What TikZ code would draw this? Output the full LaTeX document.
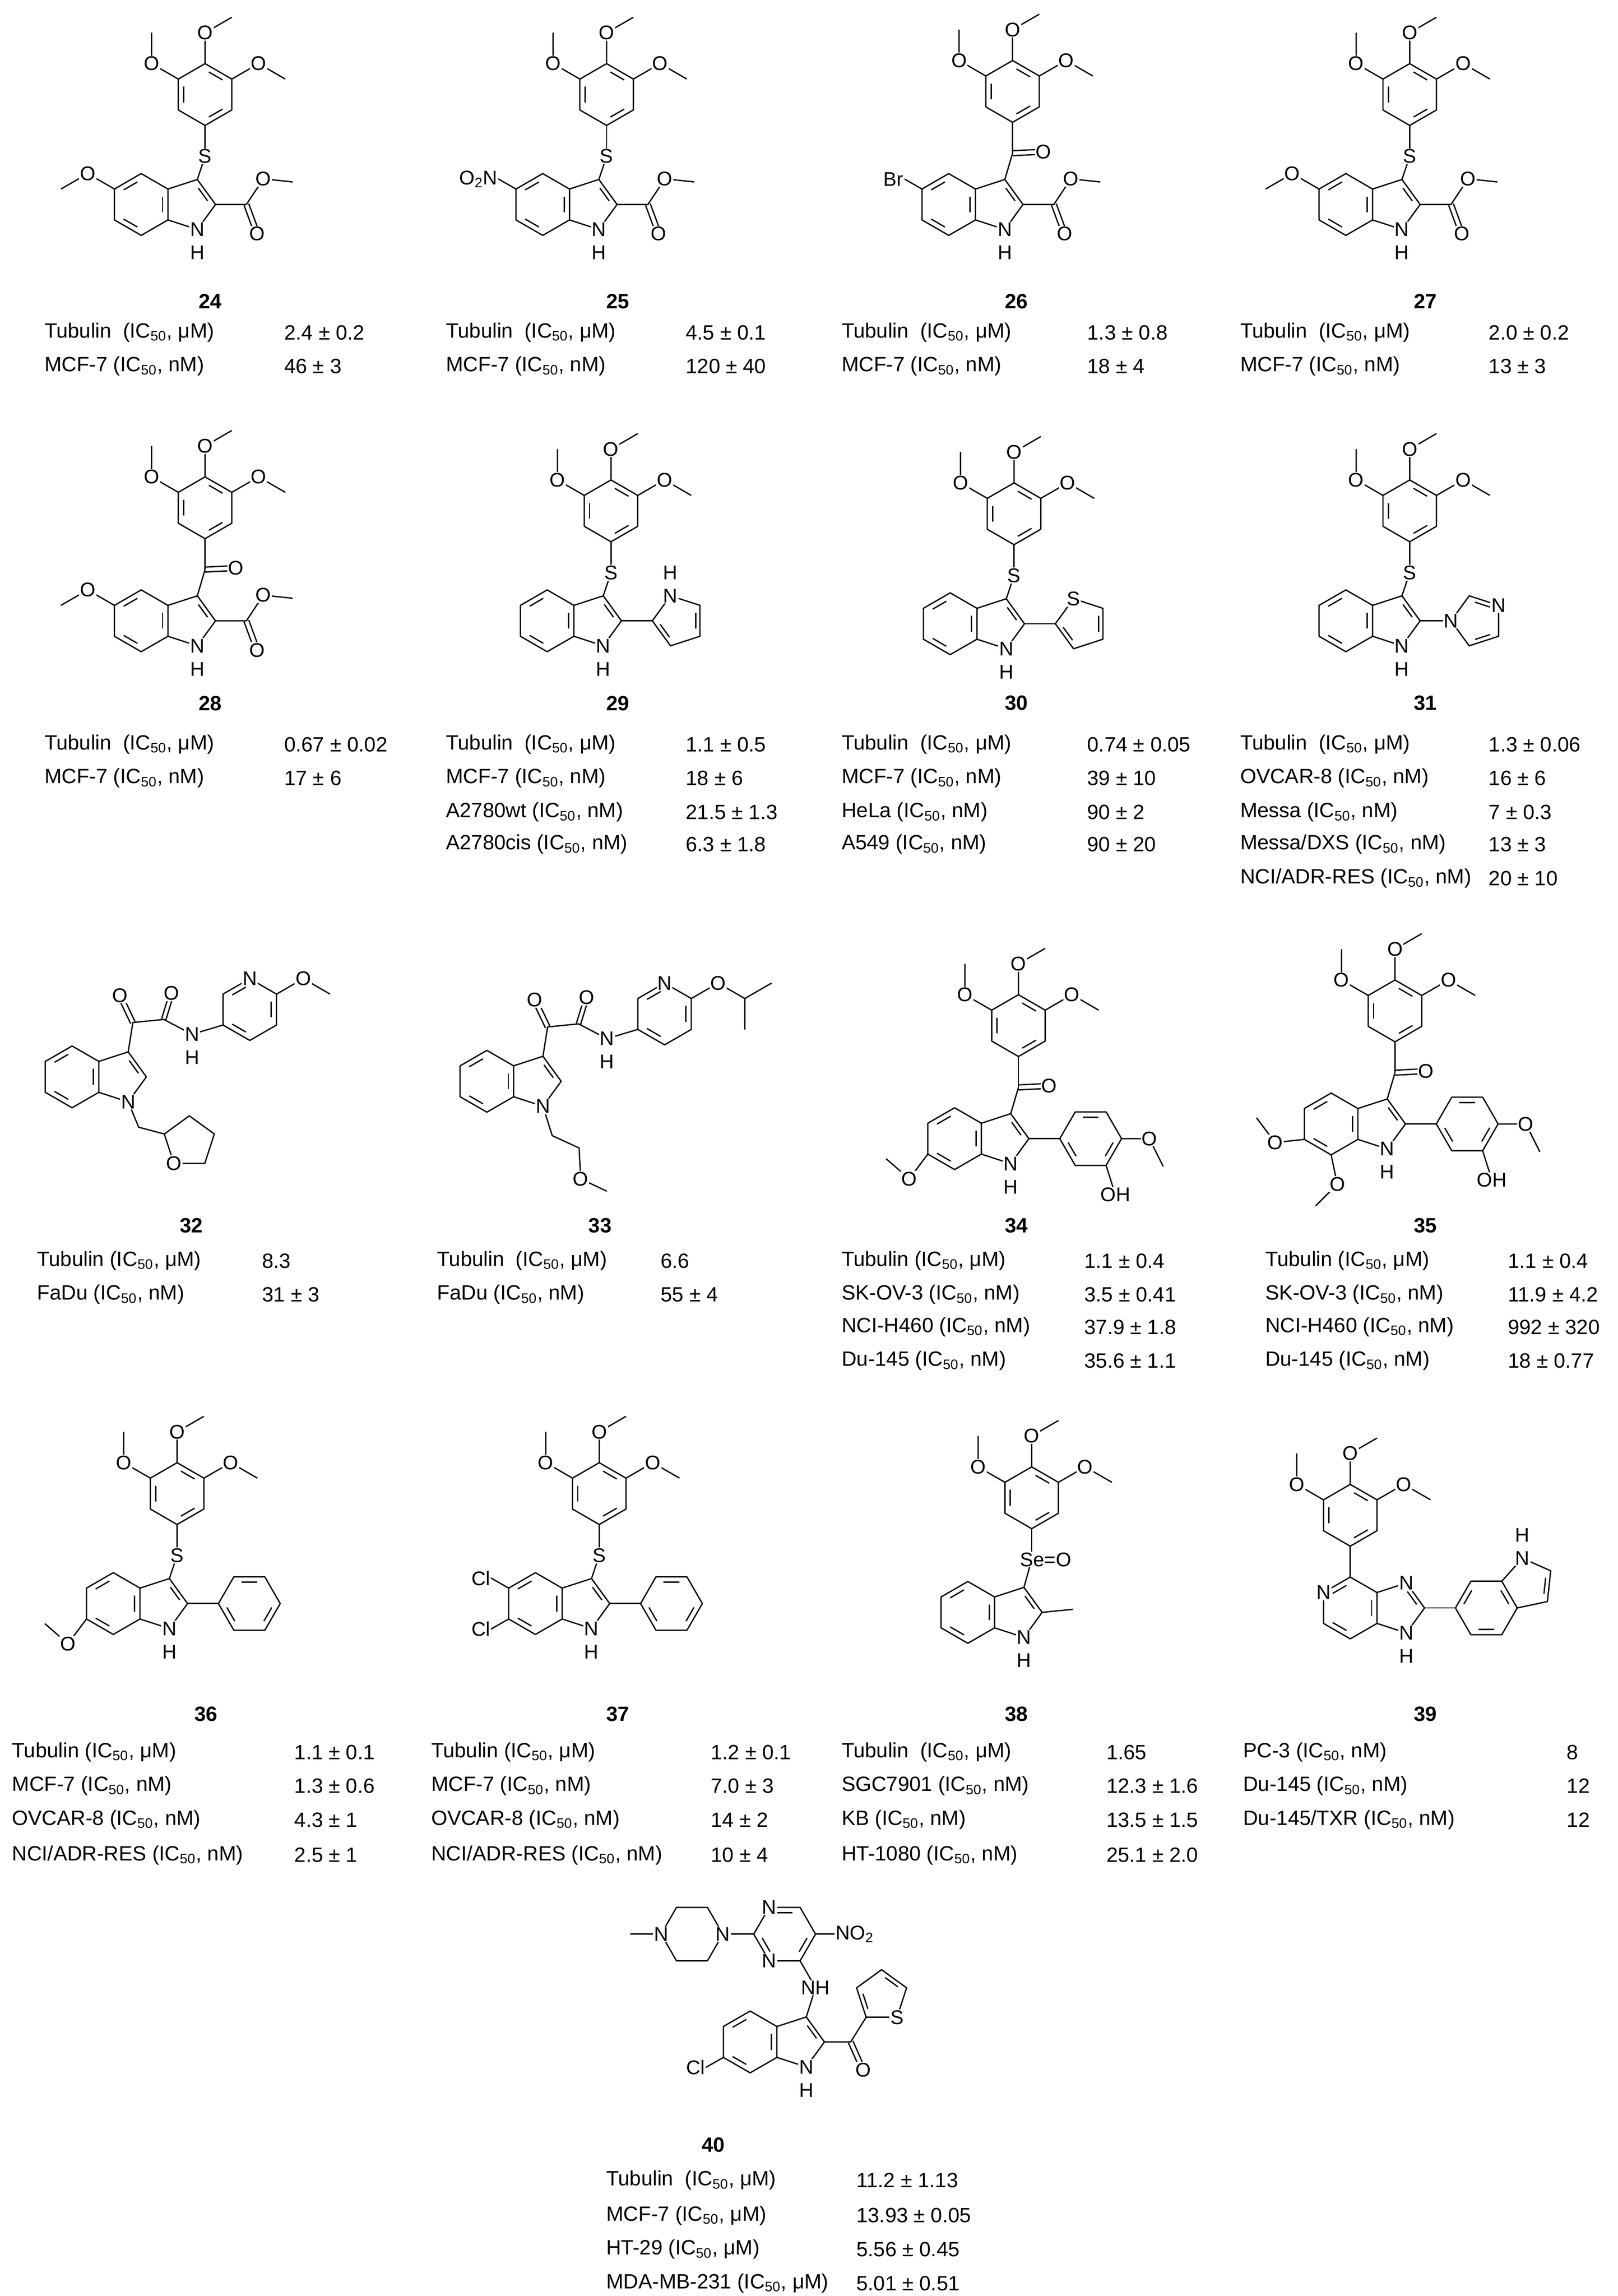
\documentclass[tikz,border=0pt]{standalone}
\usepackage{fontspec}
\setmainfont{Liberation Sans}
\usetikzlibrary{calc}
\tikzset{
 atom/.style={fill=white,inner sep=0.5pt,font=\fontsize{11.5}{11.5}\selectfont},
 dat/.style={anchor=west,inner sep=0pt,font=\fontsize{12}{12}\selectfont},
 cnum/.style={inner sep=0pt,font=\fontsize{12}{12}\selectfont\bfseries},
 mol/.style={x=0.63cm,y=0.63cm,line width=0.75pt,line join=round}
}
\newcommand\IC[1]{(IC\textsubscript{50}, #1)}
\newcommand\hexr[3]{\coordinate (#1c) at (#2);
 \foreach \k in {1,...,6}{\coordinate (#1\k) at ($(#2)+({#3+60*(\k-1)}:1)$);}
 \draw (#11)--(#12)--(#13)--(#14)--(#15)--(#16)--cycle;}
\newcommand\pentr[3]{\coordinate (#1c) at (#2);
 \foreach \k in {1,...,5}{\coordinate (#1\k) at ($(#2)+({#3+72*(\k-1)}:0.851)$);}
 \draw (#11)--(#12)--(#13)--(#14)--(#15)--cycle;}
\newcommand\dbl[3]{\draw ($(#1)!.18!(#2)!.2!(#3)$) -- ($(#2)!.18!(#1)!.2!(#3)$);}
\newcommand\dblo[2]{\draw ($(#1)!.08!90:(#2)$) -- ($(#2)!.08!-90:(#1)$); \draw ($(#1)!.08!-90:(#2)$) -- ($(#2)!.08!90:(#1)$);}
\newcommand\indole{\hexr{b}{0,0}{30}
 \coordinate (c3) at (1.817,0.809); \coordinate (c2) at (2.405,0); \coordinate (n1) at (1.817,-0.809); \coordinate (pc) at (1.554,0);
 \draw (b1)--(c3)--(c2)--(n1)--(b6);
 \dbl{b2}{b3}{bc}\dbl{b4}{b5}{bc}\dbl{b6}{b1}{bc}\dbl{c3}{c2}{pc}}
\newcommand\NHlab{\node[atom] at (n1){N}; \node[atom] at ($(n1)+(0,-0.75)$){H};}
\newcommand\tmpring[1]{\coordinate (tc) at ($(#1)+(0,2)$);
 \hexr{t}{tc}{30}
 \draw (#1)--(t5);
 \dbl{t5}{t6}{tc}\dbl{t1}{t2}{tc}\dbl{t3}{t4}{tc}
 \coordinate (to2) at ($(t2)+(0,1)$); \coordinate (tm2) at ($(to2)+(0.866,0.5)$);
 \coordinate (to1) at ($(t1)+(0.866,0.5)$); \coordinate (tm1) at ($(to1)+(0.866,-0.5)$);
 \coordinate (to3) at ($(t3)+(-0.866,0.5)$); \coordinate (tm3) at ($(to3)+(0,1)$);
 \draw (t2)--(to2)--(tm2) (t1)--(to1)--(tm1) (t3)--(to3)--(tm3);}
\newcommand\tmplab{\node[atom] at (to1){O}; \node[atom] at (to2){O}; \node[atom] at (to3){O};}
\newcommand\ester{\coordinate (ec) at ($(c2)+(1,0)$); \coordinate (eo) at ($(ec)+(0.55,0.83)$);
 \coordinate (em) at ($(eo)+(0.95,-0.1)$); \coordinate (ed) at ($(ec)+(0.35,-0.95)$);
 \draw (c2)--(ec)--(eo)--(em); \dblo{ec}{ed}}
\newcommand\esterlab{\node[atom] at (eo){O}; \node[atom] at (ed){O};}
\newcommand\sarene{\coordinate (S) at ($(c3)+(0.25,0.75)$); \draw (c3)--(S); \tmpring{S}}
\newcommand\ketone{\coordinate (cc) at ($(c3)+(0.25,0.85)$); \draw (c3)--(cc);
 \coordinate (kd) at ($(cc)+(1,0.05)$); \dblo{cc}{kd} \tmpring{cc}}
\newcommand\fiveOMe{\coordinate (o5) at ($(b3)+(-0.866,0.5)$); \coordinate (m5) at ($(o5)+(-0.866,-0.5)$); \draw (b3)--(o5)--(m5);}
\newcommand\phenyl{\coordinate (ac) at ($(c2)+(2,0)$); \hexr{a}{ac}{0} \draw (c2)--(a4);
 \dbl{a2}{a3}{ac}\dbl{a1}{a6}{ac}\dbl{a4}{a5}{ac}}
\newcommand\aryl{\phenyl
 \coordinate (ao) at ($(a1)+(0.9,0)$); \coordinate (am) at ($(ao)+(0.45,-0.9)$); \coordinate (oh) at ($(a6)+(0.3,-0.95)$);
 \draw (a1)--(ao)--(am) (a6)--(oh);}
\newcommand\aryllab{\node[atom] at (ao){O}; \node[atom] at (oh){OH};}
\begin{document}
\begin{tikzpicture}[x=0.03cm,y=-0.03cm]
\useasboundingbox (0,0) rectangle (1100,1560.7);
\fill[white] (0,0) rectangle (1100,1560.7);
% ---------- 24
\begin{scope}[shift={(96,139)},mol]
\indole \sarene \fiveOMe \ester
\tmplab \esterlab \NHlab \node[atom] at (S){S}; \node[atom] at (o5){O};
\end{scope}
% ---------- 25
\begin{scope}[shift={(369,139)},mol]
\indole \sarene \ester
\draw (b3)--($(b3)+(-0.7,0.4)$);
\tmplab \esterlab \NHlab \node[atom] at (S){S};
\node[atom,anchor=east] at ($(b3)+(-0.55,0.32)$){O\textsubscript{2}N};
\end{scope}
% ---------- 26
\begin{scope}[shift={(645,139)},mol]
\indole \ketone \ester
\draw (b3)--($(b3)+(-0.7,0.4)$);
\tmplab \esterlab \NHlab \node[atom] at (kd){O};
\node[atom,anchor=east] at ($(b3)+(-0.55,0.32)$){Br};
\end{scope}
% ---------- 27
\begin{scope}[shift={(915,139)},mol]
\indole \sarene \fiveOMe \ester
\tmplab \esterlab \NHlab \node[atom] at (S){S}; \node[atom] at (o5){O};
\end{scope}
% ---------- 28
\begin{scope}[shift={(96,422)},mol]
\indole \ketone \fiveOMe \ester
\tmplab \esterlab \NHlab \node[atom] at (kd){O}; \node[atom] at (o5){O};
\end{scope}
% ---------- 29
\begin{scope}[shift={(372,422)},mol]
\indole \sarene
\coordinate (qc) at ($(c2)+(1.851,0)$); \pentr{q}{qc}{180} \draw (c2)--(q1);
\dbl{q1}{q2}{qc}\dbl{q3}{q4}{qc}
\tmplab \NHlab \node[atom] at (S){S};
\node[atom] at (q5){N}; \node[atom] at ($(q5)+(0,0.75)$){H};
\end{scope}
% ---------- 30
\begin{scope}[shift={(646,424)},mol]
\indole \sarene
\coordinate (qc) at ($(c2)+(1.851,0)$); \pentr{q}{qc}{180} \draw (c2)--(q1);
\dbl{q1}{q2}{qc}\dbl{q3}{q4}{qc}
\tmplab \NHlab \node[atom] at (S){S}; \node[atom] at (q5){S};
\end{scope}
% ---------- 31
\begin{scope}[shift={(915,422)},mol]
\indole \sarene
\coordinate (qc) at ($(c2)+(1.851,0)$); \pentr{q}{qc}{180} \draw (c2)--(q1);
\dbl{q5}{q4}{qc}\dbl{q3}{q2}{qc}
\tmplab \NHlab \node[atom] at (S){S}; \node[atom] at (q1){N}; \node[atom] at (q4){N};
\end{scope}
% ---------- 32
\begin{scope}[shift={(49,732)},mol]
\indole
\coordinate (ca) at ($(c3)+(0.15,0.95)$); \coordinate (cb) at ($(ca)+(1,0.1)$);
\coordinate (oa) at ($(ca)+(-0.42,0.88)$); \coordinate (ob) at ($(cb)+(0.26,0.85)$);
\coordinate (nn) at ($(cb)+(0.92,-0.48)$); \coordinate (rp) at ($(nn)+(1,0.3)$);
\draw (c3)--(ca)--(cb)--(nn)--(rp); \dblo{ca}{oa} \dblo{cb}{ob}
\coordinate (rc) at ($(rp)+(0.866,0.5)$); \hexr{r}{rc}{30}
\dbl{r2}{r3}{rc}\dbl{r1}{r6}{rc}\dbl{r5}{r4}{rc}
\coordinate (ro) at ($(r1)+(0.866,0.5)$); \coordinate (rm) at ($(ro)+(0.866,-0.5)$); \draw (r1)--(ro)--(rm);
\coordinate (k1) at ($(n1)+(0.34,-0.82)$); \coordinate (k2) at ($(k1)+(0.83,-0.22)$);
\draw (n1)--(k1)--(k2);
\coordinate (hc) at ($(k2)+(0.809,-0.263)$); \pentr{h}{hc}{162}
\node[atom] at (n1){N}; \node[atom] at (oa){O}; \node[atom] at (ob){O};
\node[atom] at (nn){N}; \node[atom] at ($(nn)+(0,-0.75)$){H};
\node[atom] at (r2){N}; \node[atom] at (ro){O}; \node[atom] at (h2){O};
\end{scope}
% ---------- 33
\begin{scope}[shift={(331,735)},mol]
\indole
\coordinate (ca) at ($(c3)+(0.15,0.95)$); \coordinate (cb) at ($(ca)+(1,0.1)$);
\coordinate (oa) at ($(ca)+(-0.42,0.88)$); \coordinate (ob) at ($(cb)+(0.26,0.85)$);
\coordinate (nn) at ($(cb)+(0.92,-0.48)$); \coordinate (rp) at ($(nn)+(1,0.3)$);
\draw (c3)--(ca)--(cb)--(nn)--(rp); \dblo{ca}{oa} \dblo{cb}{ob}
\coordinate (rc) at ($(rp)+(0.866,0.5)$); \hexr{r}{rc}{30}
\dbl{r2}{r3}{rc}\dbl{r1}{r6}{rc}\dbl{r5}{r4}{rc}
\coordinate (ro) at ($(r1)+(0.866,0.5)$); \coordinate (rh) at ($(ro)+(0.866,-0.5)$);
\draw (r1)--(ro)--(rh)--($(rh)+(0.866,0.5)$) (rh)--($(rh)+(0,-1)$);
\coordinate (k1) at ($(n1)+(0.3,-0.95)$); \coordinate (k2) at ($(k1)+(0.87,-0.4)$);
\coordinate (ko) at ($(k2)+(0.05,-1)$); \coordinate (km) at ($(ko)+(0.85,-0.4)$);
\draw (n1)--(k1)--(k2)--(ko)--(km);
\node[atom] at (n1){N}; \node[atom] at (oa){O}; \node[atom] at (ob){O};
\node[atom] at (nn){N}; \node[atom] at ($(nn)+(0,-0.75)$){H};
\node[atom] at (r2){N}; \node[atom] at (ro){O}; \node[atom] at (ko){O};
\end{scope}
% ---------- 34
\begin{scope}[shift={(649,774)},mol]
\indole \ketone \aryl
\coordinate (o6) at ($(b4)+(-0.6,-0.8)$); \coordinate (m6) at ($(o6)+(-0.75,0.65)$); \draw (b4)--(o6)--(m6);
\tmplab \NHlab \aryllab \node[atom] at (kd){O}; \node[atom] at (o6){O};
\end{scope}
% ---------- 35
\begin{scope}[shift={(905,764)},mol]
\indole \ketone \aryl
\coordinate (o6) at ($(b4)+(-0.95,-0.1)$); \coordinate (m6) at ($(o6)+(-0.6,0.8)$); \draw (b4)--(o6)--(m6);
\coordinate (o7) at ($(b5)+(0.2,-0.95)$); \coordinate (m7) at ($(o7)+(-0.7,-0.7)$); \draw (b5)--(o7)--(m7);
\tmplab \NHlab \aryllab \node[atom] at (kd){O}; \node[atom] at (o6){O}; \node[atom] at (o7){O};
\end{scope}
% ---------- 36
\begin{scope}[shift={(77,1090)},mol]
\indole \sarene \phenyl
\coordinate (o6) at ($(b4)+(-0.6,-0.8)$); \coordinate (m6) at ($(o6)+(-0.75,0.65)$); \draw (b4)--(o6)--(m6);
\tmplab \NHlab \node[atom] at (S){S}; \node[atom] at (o6){O};
\end{scope}
% ---------- 37
\begin{scope}[shift={(364,1090)},mol]
\indole \sarene \phenyl
\draw (b3)--($(b3)+(-0.7,0.4)$) (b4)--($(b4)+(-0.7,-0.4)$);
\tmplab \NHlab \node[atom] at (S){S};
\node[atom,anchor=east] at ($(b3)+(-0.55,0.32)$){Cl};
\node[atom,anchor=east] at ($(b4)+(-0.55,-0.32)$){Cl};
\end{scope}
% ---------- 38
\begin{scope}[shift={(658,1096)},mol]
\indole
\coordinate (se) at ($(c3)+(0.25,0.9)$); \draw (c3)--(se); \tmpring{se}
\draw (c2)--($(c2)+(1,0.1)$);
\tmplab \NHlab
\node[atom,anchor=west] at ($(se)+(-0.42,0)$){Se=O};
\end{scope}
% ---------- 39
\begin{scope}[shift={(918,1093)},mol]
\hexr{y}{0,0}{30}
\coordinate (i3) at (1.817,0.809); \coordinate (i2) at (2.405,0); \coordinate (i1) at (1.817,-0.809); \coordinate (ic) at (1.554,0);
\draw (y1)--(i3)--(i2)--(i1)--(y6);
\dbl{y2}{y3}{yc}\dbl{y4}{y5}{yc}\dbl{y6}{y1}{yc}\dbl{i3}{i2}{ic}
\tmpring{y2}
\coordinate (gc) at ($(i2)+(2,0)$); \hexr{g}{gc}{0} \draw (i2)--(g4);
\coordinate (gp) at ($(gc)+(1.346,0.777)$); \coordinate (gn) at ($(gc)+(1.169,1.609)$);
\coordinate (gb) at ($(gc)+(2.083,1.203)$); \coordinate (gd) at ($(gc)+(1.978,0.208)$);
\draw (g2)--(gn)--(gb)--(gd)--(g1);
\dbl{g1}{g2}{gc}\dbl{g3}{g4}{gc}\dbl{g5}{g6}{gc}\dbl{gb}{gd}{gp}
\tmplab
\node[atom] at (y3){N}; \node[atom] at (i3){N};
\node[atom] at (i1){N}; \node[atom] at ($(i1)+(0,-0.75)$){H};
\node[atom] at (gn){N}; \node[atom] at ($(gn)+(0,0.75)$){H};
\end{scope}
% ---------- 40
\begin{scope}[shift={(510,1388)},mol]
\indole
\draw (b4)--($(b4)+(-0.7,-0.4)$);
\coordinate (nh) at ($(c3)+(0.3,0.95)$); \draw (c3)--(nh);
\coordinate (zc) at ($(nh)+(-1,1.732)$); \hexr{z}{zc}{0} \draw (nh)--(z6);
\dbl{z3}{z2}{zc}\dbl{z1}{z6}{zc}\dbl{z4}{z5}{zc}
\draw (z1)--($(z1)+(0.7,0)$);
\coordinate (pn) at ($(z4)+(-1,0)$); \coordinate (pzc) at ($(pn)+(-1,0)$); \hexr{p}{pzc}{0}
\draw (z4)--(p1) (p4)--($(p4)+(-1,0)$);
\coordinate (kc) at ($(c2)+(0.85,0)$); \coordinate (kd) at ($(kc)+(0.4,-0.9)$);
\coordinate (cp) at ($(kc)+(0.5,0.8)$); \coordinate (sc) at ($(cp)+(0.5,0.688)$);
\draw (c2)--(kc)--(cp); \dblo{kc}{kd}
\pentr{s}{sc}{234} \dbl{s1}{s5}{sc}\dbl{s3}{s4}{sc}
\NHlab
\node[atom] at (nh){NH}; \node[atom] at (z3){N}; \node[atom] at (z5){N};
\node[atom] at (p1){N}; \node[atom] at (p4){N}; \node[atom] at (kd){O}; \node[atom] at (s2){S};
\node[atom,anchor=west] at ($(z1)+(0.6,0)$){NO\textsubscript{2}};
\node[atom,anchor=east] at ($(b4)+(-0.55,-0.32)$){Cl};
\end{scope}
% ---------- numbers
\foreach \n/\x/\y in {24/143/205,25/420/205,26/691/205,27/969/205,28/143/478,29/420/478,30/691/478,31/969/478,32/130/833,33/408/833,34/691/833,35/969/833,36/140/1165,37/420/1165,38/691/1165,39/969/1165,40/485/1458}
 \node[cnum] (num\n) at (\x,\y) {\n};
% ---------- data
\node[dat] at (30,226) {Tubulin\ \ \IC{μM}}; \node[dat] at (193,226) {2.4 ± 0.2};
\node[dat] at (30,249) {MCF-7 \IC{nM}}; \node[dat] at (193,249) {46 ± 3};
\node[dat] at (303,226) {Tubulin\ \ \IC{μM}}; \node[dat] at (466,226) {4.5 ± 0.1};
\node[dat] at (303,249) {MCF-7 \IC{nM}}; \node[dat] at (466,249) {120 ± 40};
\node[dat] at (572,226) {Tubulin\ \ \IC{μM}}; \node[dat] at (739,226) {1.3 ± 0.8};
\node[dat] at (572,249) {MCF-7 \IC{nM}}; \node[dat] at (739,249) {18 ± 4};
\node[dat] at (843,226) {Tubulin\ \ \IC{μM}}; \node[dat] at (1012,226) {2.0 ± 0.2};
\node[dat] at (843,249) {MCF-7 \IC{nM}}; \node[dat] at (1012,249) {13 ± 3};
%
\node[dat] at (30,506) {Tubulin\ \ \IC{μM}}; \node[dat] at (193,506) {0.67 ± 0.02};
\node[dat] at (30,529) {MCF-7 \IC{nM}}; \node[dat] at (193,529) {17 ± 6};
\node[dat] at (303,506) {Tubulin\ \ \IC{μM}}; \node[dat] at (466,506) {1.1 ± 0.5};
\node[dat] at (303,529) {MCF-7 \IC{nM}}; \node[dat] at (466,529) {18 ± 6};
\node[dat] at (303,552) {A2780wt \IC{nM}}; \node[dat] at (466,552) {21.5 ± 1.3};
\node[dat] at (303,574) {A2780cis \IC{nM}}; \node[dat] at (466,574) {6.3 ± 1.8};
\node[dat] at (572,506) {Tubulin\ \ \IC{μM}}; \node[dat] at (739,506) {0.74 ± 0.05};
\node[dat] at (572,529) {MCF-7 \IC{nM}}; \node[dat] at (739,529) {39 ± 10};
\node[dat] at (572,552) {HeLa \IC{nM}}; \node[dat] at (739,552) {90 ± 2};
\node[dat] at (572,574) {A549 \IC{nM}}; \node[dat] at (739,574) {90 ± 20};
\node[dat] at (843,506) {Tubulin\ \ \IC{μM}}; \node[dat] at (1012,506) {1.3 ± 0.06};
\node[dat] at (843,529) {OVCAR-8 \IC{nM}}; \node[dat] at (1012,529) {16 ± 6};
\node[dat] at (843,552) {Messa \IC{nM}}; \node[dat] at (1012,552) {7 ± 0.3};
\node[dat] at (843,574) {Messa/DXS \IC{nM}}; \node[dat] at (1012,574) {13 ± 3};
\node[dat] at (843,597) {NCI/ADR-RES \IC{nM}}; \node[dat] at (1012,597) {20 ± 10};
%
\node[dat] at (25,857) {Tubulin \IC{μM}}; \node[dat] at (178,857) {8.3};
\node[dat] at (25,880) {FaDu \IC{nM}}; \node[dat] at (178,880) {31 ± 3};
\node[dat] at (297,857) {Tubulin\ \ \IC{μM}}; \node[dat] at (449,857) {6.6};
\node[dat] at (297,880) {FaDu \IC{nM}}; \node[dat] at (449,880) {55 ± 4};
\node[dat] at (572,857) {Tubulin \IC{μM}}; \node[dat] at (737,857) {1.1 ± 0.4};
\node[dat] at (572,880) {SK-OV-3 \IC{nM}}; \node[dat] at (737,880) {3.5 ± 0.41};
\node[dat] at (572,902) {NCI-H460 \IC{nM}}; \node[dat] at (737,902) {37.9 ± 1.8};
\node[dat] at (572,925) {Du-145 \IC{nM}}; \node[dat] at (737,925) {35.6 ± 1.1};
\node[dat] at (860,857) {Tubulin \IC{μM}}; \node[dat] at (1025,857) {1.1 ± 0.4};
\node[dat] at (860,880) {SK-OV-3 \IC{nM}}; \node[dat] at (1025,880) {11.9 ± 4.2};
\node[dat] at (860,902) {NCI-H460 \IC{nM}}; \node[dat] at (1025,902) {992 ± 320};
\node[dat] at (860,925) {Du-145 \IC{nM}}; \node[dat] at (1025,925) {18 ± 0.77};
%
\node[dat] at (8,1191) {Tubulin \IC{μM}}; \node[dat] at (200,1191) {1.1 ± 0.1};
\node[dat] at (8,1214) {MCF-7 \IC{nM}}; \node[dat] at (200,1214) {1.3 ± 0.6};
\node[dat] at (8,1237) {OVCAR-8 \IC{nM}}; \node[dat] at (200,1237) {4.3 ± 1};
\node[dat] at (8,1261) {NCI/ADR-RES \IC{nM}}; \node[dat] at (200,1261) {2.5 ± 1};
\node[dat] at (293,1191) {Tubulin \IC{μM}}; \node[dat] at (483,1191) {1.2 ± 0.1};
\node[dat] at (293,1214) {MCF-7 \IC{nM}}; \node[dat] at (483,1214) {7.0 ± 3};
\node[dat] at (293,1237) {OVCAR-8 \IC{nM}}; \node[dat] at (483,1237) {14 ± 2};
\node[dat] at (293,1261) {NCI/ADR-RES \IC{nM}}; \node[dat] at (483,1261) {10 ± 4};
\node[dat] at (572,1191) {Tubulin\ \ \IC{μM}}; \node[dat] at (752,1191) {1.65};
\node[dat] at (572,1214) {SGC7901 \IC{nM}}; \node[dat] at (752,1214) {12.3 ± 1.6};
\node[dat] at (572,1237) {KB \IC{nM}}; \node[dat] at (752,1237) {13.5 ± 1.5};
\node[dat] at (572,1261) {HT-1080 \IC{nM}}; \node[dat] at (752,1261) {25.1 ± 2.0};
\node[dat] at (845,1191) {PC-3 \IC{nM}}; \node[dat] at (1065,1191) {8};
\node[dat] at (845,1214) {Du-145 \IC{nM}}; \node[dat] at (1065,1214) {12};
\node[dat] at (845,1237) {Du-145/TXR \IC{nM}}; \node[dat] at (1065,1237) {12};
%
\node[dat] at (412,1482) {Tubulin\ \ \IC{μM}}; \node[dat] at (582,1482) {11.2 ± 1.13};
\node[dat] at (412,1506) {MCF-7 \IC{μM}}; \node[dat] at (582,1506) {13.93 ± 0.05};
\node[dat] at (412,1529) {HT-29 \IC{μM}}; \node[dat] at (582,1529) {5.56 ± 0.45};
\node[dat] at (412,1552) {MDA-MB-231 \IC{μM}}; \node[dat] at (582,1552) {5.01 ± 0.51};
\end{tikzpicture}
\end{document}
